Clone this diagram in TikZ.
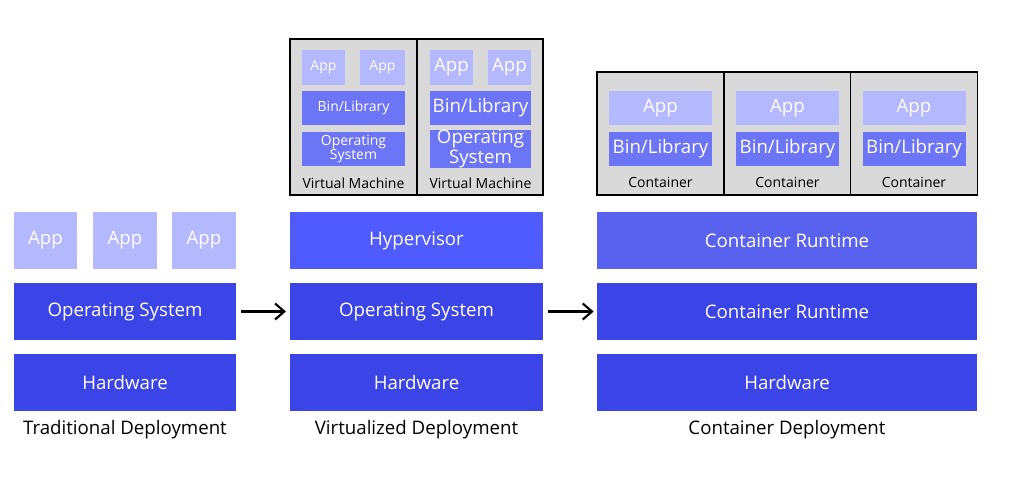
\documentclass[tikz,border=0pt]{standalone}
\usepackage{fontspec}
\setmainfont{Open Sans}
\usetikzlibrary{arrows.meta}
\definecolor{appColor}{HTML}{B3B8FF}
\definecolor{binColor}{HTML}{6C75F5}
\definecolor{hypColor}{HTML}{4F5BFF}
\definecolor{crtColor}{HTML}{5862EE}
\definecolor{osColor}{HTML}{3B44E6}
\definecolor{vmColor}{HTML}{D9D9D9}
\tikzset{
	blk/.style 2 args={inner sep=0, outer sep=0, text=white, align=center,
		minimum width=#1*0.75pt, minimum height=#2*0.75pt},
	big/.style={font=\fontsize{14}{14}\selectfont},
	mid/.style={font=\fontsize{14}{11.5}\selectfont},
	sml/.style={font=\fontsize{10.5}{8.5}\selectfont},
	lbl/.style={inner sep=0, font=\fontsize{10.5}{10}\selectfont},
	vm/.style 2 args={draw, fill=vmColor, line width=0.9pt, inner sep=0, outer sep=0,
		minimum width=#1*0.75pt, minimum height=#2*0.75pt},
	title/.style={inner sep=0, font=\fontsize{14}{14}\selectfont}
}
\begin{document}
\begin{tikzpicture}[x=0.75pt, y=-0.75pt, >={Straight Barb[length=7pt,width=12pt]}]
	\useasboundingbox (0,0) rectangle (1009,480);
	% traditional
	\node[blk={63}{57}, fill=appColor, big] (ta1) at (45.5,240.5) {App};
	\node[blk={64}{57}, fill=appColor, big] (ta2) at (125,240.5) {App};
	\node[blk={64}{57}, fill=appColor, big] (ta3) at (204,240.5) {App};
	\node[blk={222}{57}, fill=osColor, big] (tos) at (125,311.5) {Operating System};
	\node[blk={222}{57}, fill=osColor, big] (thw) at (125,382.5) {Hardware};
	\node[title] (tt) at (125,430) {Traditional Deployment};
	% virtualized
	\node[vm={127}{156}] (vm1) at (353.5,117) {};
	\node[vm={126}{156}] (vm2) at (480,117) {};
	\node[blk={43}{35}, fill=appColor, sml] (v1a1) at (323.5,67.5) {App};
	\node[blk={45}{35}, fill=appColor, sml] (v1a2) at (382.5,67.5) {App};
	\node[blk={103}{34}, fill=binColor, sml] (v1b) at (353.5,108) {Bin/Library};
	\node[blk={103}{34}, fill=binColor, sml] (v1o) at (353.5,149) {Operating\\System};
	\node[lbl] (v1c) at (353.5,183) {Virtual Machine};
	\node[blk={43}{35}, fill=appColor, mid] (v2a1) at (451.5,67.5) {App};
	\node[blk={43}{35}, fill=appColor, mid] (v2a2) at (509.5,67.5) {App};
	\node[blk={101}{34}, fill=binColor, mid] (v2b) at (480.5,108) {Bin/Library};
	\node[blk={101}{34}, fill=binColor, mid] (v2o) at (480.5,149) {Operating\\System};
	\node[lbl] (v2c) at (480.5,183) {Virtual Machine};
	\node[blk={253}{57}, fill=hypColor, big] (vhy) at (416.5,240.5) {Hypervisor};
	\node[blk={253}{57}, fill=osColor, big] (vos) at (416.5,311.5) {Operating System};
	\node[blk={253}{57}, fill=osColor, big] (vhw) at (416.5,382.5) {Hardware};
	\node[title] (vt) at (416.5,430) {Virtualized Deployment};
	% containers
	\foreach \i/\cx in {1/660.5,2/787.5,3/914}{
		\node[vm={127}{123}] (c\i) at (\cx,133.5) {};
		\node[blk={103}{34}, fill=appColor, mid] (ca\i) at (\cx,108) {App};
		\node[blk={103}{34}, fill=binColor, mid] (cb\i) at (\cx,149) {Bin/Library};
		\node[lbl] (cc\i) at (\cx,182) {Container};
	}
	\node[blk={380}{57}, fill=crtColor, big] (crt) at (787,240.5) {Container Runtime};
	\node[blk={380}{57}, fill=osColor, big] (cos) at (787,311.5) {Container Runtime};
	\node[blk={380}{57}, fill=osColor, big] (chw) at (787,382.5) {Hardware};
	\node[title] (ct) at (787,430) {Container Deployment};
	% arrows
	\draw[->, line width=1.6pt, shorten <=4pt, shorten >=3pt] (tos) -- (vos);
	\draw[->, line width=1.6pt, shorten <=4pt, shorten >=2.5pt] (vos) -- (cos);
\end{tikzpicture}
\end{document}
